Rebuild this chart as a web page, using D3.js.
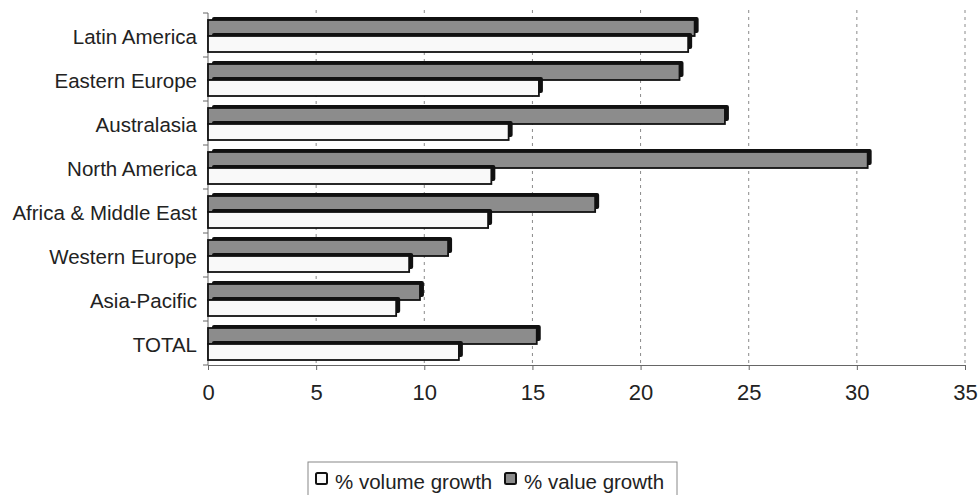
<!DOCTYPE html>
<html><head><meta charset="utf-8">
<script src="https://cdn.jsdelivr.net/npm/d3@7"></script>
<style>
html,body{margin:0;padding:0;background:#fff;}
text{font-family:"Liberation Sans",Arial,sans-serif;fill:#222;}
</style></head>
<body><svg id="c" width="980" height="495"></svg>
<script>
const categories = ["Latin America","Eastern Europe","Australasia","North America","Africa & Middle East","Western Europe","Asia-Pacific","TOTAL"];
const volumeGrowth = [22.2, 15.3, 13.9, 13.1, 12.95, 9.3, 8.7, 11.6];
const valueGrowth  = [22.5, 21.8, 23.9, 30.5, 17.9, 11.1, 9.8, 15.2];
const xTicks = [0,5,10,15,20,25,30,35];
const seriesNames = ["% volume growth","% value growth"];

const svg = d3.select("#c");
const x = d3.scaleLinear().domain([0,35]).range([208,965]);
const y = d3.scaleBand().domain(categories).range([13,365]).paddingInner(0).paddingOuter(0);
const sub = d3.scaleBand().domain(["value","volume"]).range([0, 32]);
const step = y.step();
const top0 = (step - 32)/2 + 1;

// gridlines
svg.append("g").selectAll("line").data(xTicks.filter(d=>d>0)).join("line")
  .attr("x1",d=>x(d)).attr("x2",d=>x(d)).attr("y1",10).attr("y2",365)
  .attr("stroke","#8a8a8a").attr("stroke-width",1).attr("stroke-dasharray","3,4");

// y axis
const yAxis = svg.append("g").attr("transform","translate(208,0)");
yAxis.append("line").attr("x1",0).attr("x2",0).attr("y1",13).attr("y2",365).attr("stroke","#666");
const bounds = categories.map(c=>y(c)).concat([365]);
yAxis.selectAll("line.tk").data(bounds).join("line").attr("class","tk")
  .attr("x1",-5).attr("x2",0).attr("y1",d=>d).attr("y2",d=>d).attr("stroke","#666");
svg.append("g").selectAll("text").data(categories).join("text")
  .attr("x",197).attr("y",d=>y(d)+step/2+4).attr("text-anchor","end")
  .attr("dominant-baseline","middle").attr("font-size","20.5px").text(d=>d);

// x axis
const xa = svg.append("g").attr("transform","translate(0,365)")
  .call(d3.axisBottom(x).tickValues(xTicks).tickSize(5).tickSizeOuter(0).tickPadding(14));
xa.select(".domain").attr("stroke","#666");
xa.selectAll(".tick line").attr("stroke","#666");
xa.selectAll(".tick text").attr("font-size","22px").attr("font-family","Liberation Sans, Arial, sans-serif").attr("fill","#222");

// bars
const dx = 4, dy = -3;
const rows = categories.map((c,i)=>({c, value:valueGrowth[i], volume:volumeGrowth[i]}));
const bars = [];
rows.forEach(r=>{
  bars.push({c:r.c, k:"value", v:r.value});
  bars.push({c:r.c, k:"volume", v:r.volume});
});
const g = svg.append("g");
bars.forEach(b=>{
  const yy = y(b.c) + top0 + sub(b.k);
  const h = sub.bandwidth();
  g.append("rect").attr("x",x(0)+dx).attr("y",yy+dy).attr("width",x(b.v)-x(0)).attr("height",h)
    .attr("fill","#111").attr("rx",2);
  g.append("rect").attr("x",x(0)).attr("y",yy).attr("width",x(b.v)-x(0)).attr("height",h)
    .attr("fill", b.k==="value" ? "#8c8c8c" : "#f9f9f9")
    .attr("stroke","#111").attr("stroke-width",1.8);
});

// legend
const lg = svg.append("g");
lg.append("rect").attr("x",308).attr("y",462).attr("width",369).attr("height",45)
  .attr("fill","#fff").attr("stroke","#888");
const items = [{name:seriesNames[0], fill:"#f9f9f9", bx:316, tx:335},
               {name:seriesNames[1], fill:"#8c8c8c", bx:505, tx:524}];
items.forEach(it=>{
  lg.append("rect").attr("x",it.bx).attr("y",473).attr("width",11).attr("height",11)
    .attr("fill",it.fill).attr("stroke","#111").attr("stroke-width",2).attr("rx",1.5);
  lg.append("text").attr("x",it.tx).attr("y",489).attr("font-size","20.5px").text(it.name);
});
</script></body></html>
